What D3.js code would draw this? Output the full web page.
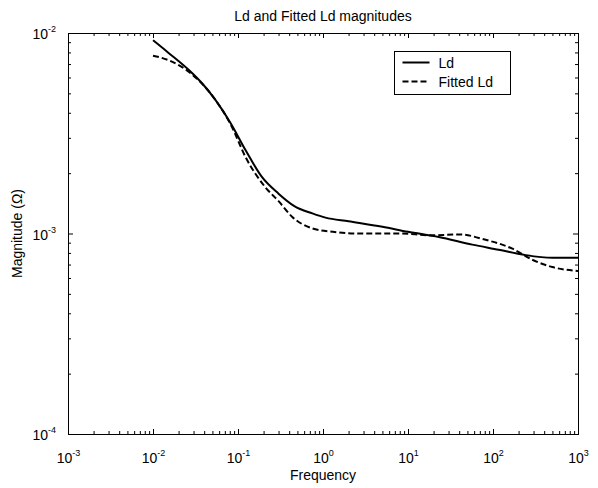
<!DOCTYPE html>
<html>
<head>
<meta charset="utf-8">
<script src="https://cdn.jsdelivr.net/npm/d3@7"></script>
<style>
  body { margin: 0; background: #fff; }
  svg text { font-family: "Liberation Sans", Arial, sans-serif; fill: #000; }
</style>
</head>
<body>
<script>
// Ld (measured) magnitude
const freqLd = [0.01, 0.015, 0.029, 0.038, 0.055, 0.082, 0.123, 0.19, 0.30, 0.46, 0.75, 1.07, 2.0, 5.0, 10, 23, 57, 117, 243, 500, 1000];
const magLd = [0.0092, 0.0080, 0.0063, 0.0056, 0.0046, 0.00355, 0.0026, 0.00192, 0.00158, 0.00137, 0.00126, 0.0012, 0.00115, 0.00108, 0.00102, 0.00096, 0.00088, 0.00083, 0.00078, 0.000757, 0.000757];

// Fitted Ld magnitude
const freqFit = [0.01, 0.0155, 0.029, 0.055, 0.082, 0.123, 0.21, 0.30, 0.435, 0.75, 1.3, 2.65, 7.8, 19, 40, 82, 169, 290, 500, 1000];
const magFit = [0.0077, 0.0073, 0.0062, 0.0046, 0.0035, 0.0024, 0.0017, 0.00145, 0.00121, 0.00106, 0.00102, 0.0010, 0.0010, 0.00098, 0.00099, 0.00093, 0.00084, 0.00074, 0.00068, 0.00065];

const xDecades = [1e-3, 1e-2, 1e-1, 1e0, 1e1, 1e2, 1e3];
const yDecades = [1e-4, 1e-3, 1e-2];
const seriesNames = ['Ld', 'Fitted Ld'];

const w = 598;
const h = 488;
const plot = { left: 68, right: 578, top: 33, bottom: 434 };

const x = d3.scaleLog().domain([1e-3, 1e3]).range([plot.left, plot.right]);
const y = d3.scaleLog().domain([1e-4, 1e-2]).range([plot.bottom, plot.top]);

const svg = d3.select('body')
  .append('svg')
  .attr('width', w)
  .attr('height', h);

// minor ticks (2..9 within each decade)
const xMinor = x.ticks().filter(v => !xDecades.some(d => Math.abs(d - v) / d < 1e-9));
const yMinor = y.ticks().filter(v => !yDecades.some(d => Math.abs(d - v) / d < 1e-9));

const major = 5;
const minor = 3;

function supLabel(sel) {
  sel.each(function (d) {
    const t = d3.select(this);
    const e = Math.round(Math.log10(d));
    t.text('10');
    t.append('tspan')
      .attr('dy', '-0.75em')
      .attr('font-size', '9px')
      .text(e);
  });
}

// bottom axis
svg.append('g')
  .attr('transform', `translate(0,${plot.bottom})`)
  .call(d3.axisBottom(x).tickValues(xMinor).tickSize(-minor).tickFormat(''))
  .call(g => g.select('.domain').remove());
const xb = svg.append('g')
  .attr('transform', `translate(0,${plot.bottom})`)
  .call(d3.axisBottom(x).tickValues(xDecades).tickSize(-major).tickPadding(14).tickFormat(''));
xb.select('.domain').remove();
xb.selectAll('.tick text')
  .attr('font-size', '14px')
  .attr('dy', '1.05em')
  .call(supLabel);

// top axis (mirrored ticks)
svg.append('g')
  .attr('transform', `translate(0,${plot.top})`)
  .call(d3.axisTop(x).tickValues(xMinor).tickSize(-minor).tickFormat(''))
  .call(g => g.select('.domain').remove());
svg.append('g')
  .attr('transform', `translate(0,${plot.top})`)
  .call(d3.axisTop(x).tickValues(xDecades).tickSize(-major).tickFormat(''))
  .call(g => g.select('.domain').remove());

// left axis
svg.append('g')
  .attr('transform', `translate(${plot.left},0)`)
  .call(d3.axisLeft(y).tickValues(yMinor).tickSize(-minor).tickFormat(''))
  .call(g => g.select('.domain').remove());
const yl = svg.append('g')
  .attr('transform', `translate(${plot.left},0)`)
  .call(d3.axisLeft(y).tickValues(yDecades).tickSize(-major).tickPadding(6).tickFormat(''));
yl.select('.domain').remove();
yl.selectAll('.tick text')
  .attr('font-size', '14px')
  .attr('dy', '0.4em')
  .attr('x', -12)
  .call(supLabel);

// right axis (mirrored ticks)
svg.append('g')
  .attr('transform', `translate(${plot.right},0)`)
  .call(d3.axisRight(y).tickValues(yMinor).tickSize(-minor).tickFormat(''))
  .call(g => g.select('.domain').remove());
svg.append('g')
  .attr('transform', `translate(${plot.right},0)`)
  .call(d3.axisRight(y).tickValues(yDecades).tickSize(-major).tickFormat(''))
  .call(g => g.select('.domain').remove());

svg.selectAll('.tick line').attr('stroke', '#000');

// frame
svg.append('rect')
  .attr('x', plot.left + 0.5)
  .attr('y', plot.top + 0.5)
  .attr('width', plot.right - plot.left)
  .attr('height', plot.bottom - plot.top)
  .attr('fill', 'none')
  .attr('stroke', '#000')
  .attr('stroke-width', 1);

// lines
const line = d3.line()
  .x(d => x(d[0]))
  .y(d => y(d[1]))
  .curve(d3.curveMonotoneX);

svg.append('path')
  .datum(d3.zip(freqFit, magFit))
  .attr('d', line)
  .attr('fill', 'none')
  .attr('stroke', '#000')
  .attr('stroke-width', 2)
  .attr('stroke-dasharray', '6,3');

svg.append('path')
  .datum(d3.zip(freqLd, magLd))
  .attr('d', line)
  .attr('fill', 'none')
  .attr('stroke', '#000')
  .attr('stroke-width', 2);

// Title
svg.append('text')
  .attr('x', (plot.left + plot.right) / 2)
  .attr('y', 21)
  .attr('text-anchor', 'middle')
  .attr('font-size', '14px')
  .text('Ld and Fitted Ld magnitudes');

// X label
svg.append('text')
  .attr('x', (plot.left + plot.right) / 2)
  .attr('y', 480)
  .attr('text-anchor', 'middle')
  .attr('font-size', '14px')
  .text('Frequency');

// Y label
svg.append('text')
  .attr('transform', `translate(22,${(plot.top + plot.bottom) / 2}) rotate(-90)`)
  .attr('text-anchor', 'middle')
  .attr('font-size', '14px')
  .text('Magnitude (\u03A9)');

// Legend
const legend = svg.append('g').attr('transform', 'translate(394.5,51.5)');
legend.append('rect')
  .attr('width', 116)
  .attr('height', 43)
  .attr('fill', '#fff')
  .attr('stroke', '#000');
seriesNames.forEach((name, i) => {
  const ly = 11 + i * 19;
  legend.append('line')
    .attr('x1', 8).attr('x2', 35)
    .attr('y1', ly).attr('y2', ly)
    .attr('stroke', '#000')
    .attr('stroke-width', 2)
    .attr('stroke-dasharray', i === 1 ? '6,3' : null);
  legend.append('text')
    .attr('x', 44)
    .attr('y', ly + 5)
    .attr('font-size', '14px')
    .text(name);
});
</script>
</body>
</html>
